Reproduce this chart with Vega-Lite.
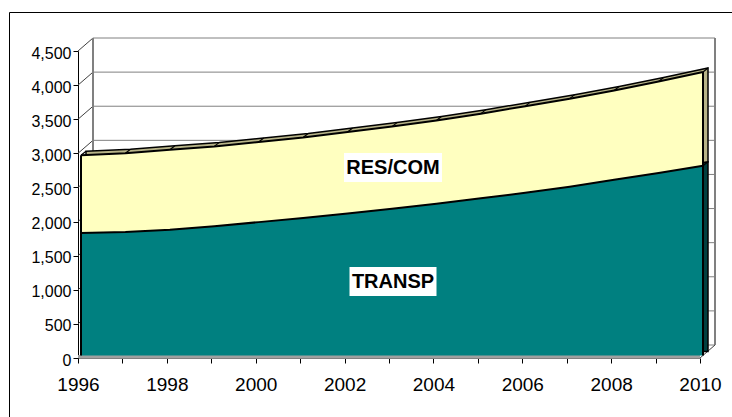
{
  "$schema": "https://vega.github.io/schema/vega-lite/v6.json",
  "width": 723,
  "height": 405,
  "autosize": {"type": "none"},
  "padding": {"left": 9, "top": 12, "right": 0, "bottom": 0},
  "background": "white",
  "config": {
    "view": {"stroke": null},
    "font": "Liberation Sans"
  },
  "datasets": {
    "energy": [
      {"year": 1996, "series": "TRANSP", "value": 1795},
      {"year": 1997, "series": "TRANSP", "value": 1810},
      {"year": 1998, "series": "TRANSP", "value": 1845},
      {"year": 1999, "series": "TRANSP", "value": 1895},
      {"year": 2000, "series": "TRANSP", "value": 1955},
      {"year": 2001, "series": "TRANSP", "value": 2015},
      {"year": 2002, "series": "TRANSP", "value": 2080},
      {"year": 2003, "series": "TRANSP", "value": 2150},
      {"year": 2004, "series": "TRANSP", "value": 2225},
      {"year": 2005, "series": "TRANSP", "value": 2305},
      {"year": 2006, "series": "TRANSP", "value": 2385},
      {"year": 2007, "series": "TRANSP", "value": 2475},
      {"year": 2008, "series": "TRANSP", "value": 2575},
      {"year": 2009, "series": "TRANSP", "value": 2675},
      {"year": 2010, "series": "TRANSP", "value": 2780},
      {"year": 1996, "series": "RES/COM", "value": 1140},
      {"year": 1997, "series": "RES/COM", "value": 1155},
      {"year": 1998, "series": "RES/COM", "value": 1170},
      {"year": 1999, "series": "RES/COM", "value": 1170},
      {"year": 2000, "series": "RES/COM", "value": 1175},
      {"year": 2001, "series": "RES/COM", "value": 1180},
      {"year": 2002, "series": "RES/COM", "value": 1195},
      {"year": 2003, "series": "RES/COM", "value": 1205},
      {"year": 2004, "series": "RES/COM", "value": 1220},
      {"year": 2005, "series": "RES/COM", "value": 1240},
      {"year": 2006, "series": "RES/COM", "value": 1270},
      {"year": 2007, "series": "RES/COM", "value": 1290},
      {"year": 2008, "series": "RES/COM", "value": 1310},
      {"year": 2009, "series": "RES/COM", "value": 1340},
      {"year": 2010, "series": "RES/COM", "value": 1375}
    ],
    "ticks": [
      {"v": 0}, {"v": 500}, {"v": 1000}, {"v": 1500}, {"v": 2000},
      {"v": 2500}, {"v": 3000}, {"v": 3500}, {"v": 4000}, {"v": 4500}
    ],
    "labels": [
      {"label": "RES/COM", "year": 2003.09, "value": 2792},
      {"label": "TRANSP", "year": 2003.09, "value": 1121}
    ]
  },
  "resolve": {"scale": {"x": "independent", "y": "independent"}},
  "layer": [
    {
      "layer": [
        {
          "data": {"name": "ticks"},
          "mark": {"type": "rule", "color": "#808080", "strokeWidth": 1, "xOffset": 15, "x2Offset": 15, "yOffset": -13, "y2Offset": -13},
          "encoding": {
            "x": {"datum": 1996, "type": "quantitative", "title": null,
              "scale": {"type": "linear", "domain": [1996, 2010], "range": [69, 691], "nice": false, "zero": false},
              "axis": {"values": [1996, 1997, 1998, 1999, 2000, 2001, 2002, 2003, 2004, 2005, 2006, 2007, 2008, 2009, 2010],
                "labelExpr": "datum.value % 2 === 0 ? datum.label : ''", "format": "d", "title": null, "grid": false,
                "orient": "bottom", "offset": -59, "tickSize": 5, "tickColor": "#000000", "domainColor": "#808080", "domainWidth": 1,
                "labelFontSize": 19, "labelFont": "Liberation Sans", "labelColor": "#000000", "labelPadding": 12,
                "labelFlush": false, "labelOverlap": false}},
            "x2": {"datum": 2010},
            "y": {"field": "v", "type": "quantitative", "title": null,
              "scale": {"type": "linear", "domain": [0, 4500], "range": [346, 39], "nice": false, "zero": false},
              "axis": {"values": [0, 500, 1000, 1500, 2000, 2500, 3000, 3500, 4000, 4500], "format": ",d", "title": null, "grid": false,
                "orient": "left", "offset": -69, "tickSize": 5, "tickColor": "#000000", "domainColor": "#000000", "domainWidth": 1,
                "labelFontSize": 16, "labelFont": "Liberation Sans", "labelColor": "#000000", "labelPadding": 2, "labelOffset": 2}},
            "y2": {"field": "v"}
          }
        },
        {
          "data": {"name": "ticks"},
          "mark": {"type": "rule", "color": "#404040", "strokeWidth": 1, "x2Offset": 15, "y2Offset": -13},
          "encoding": {
            "x": {"datum": 1996, "type": "quantitative", "title": null},
            "x2": {"datum": 1996},
            "y": {"field": "v", "type": "quantitative", "title": null},
            "y2": {"field": "v"}
          }
        },
        {
          "data": {"values": [{}]},
          "mark": {"type": "rule", "color": "#808080", "strokeWidth": 2, "xOffset": 15, "x2Offset": 15, "yOffset": -13, "y2Offset": -13},
          "encoding": {
            "x": {"datum": 1996, "type": "quantitative", "title": null},
            "x2": {"datum": 1996},
            "y": {"datum": 0, "type": "quantitative", "title": null},
            "y2": {"datum": 4500}
          }
        },
        {
          "data": {"values": [{}]},
          "mark": {"type": "rule", "color": "#808080", "strokeWidth": 2, "xOffset": 15, "x2Offset": 15, "yOffset": -13, "y2Offset": -13},
          "encoding": {
            "x": {"datum": 2010, "type": "quantitative", "title": null},
            "x2": {"datum": 2010},
            "y": {"datum": 0, "type": "quantitative", "title": null},
            "y2": {"datum": 4500}
          }
        },
        {
          "data": {"values": [{}]},
          "mark": {"type": "rule", "color": "#A0A0A0", "strokeWidth": 3, "yOffset": -1.5, "y2Offset": -1.5},
          "encoding": {
            "x": {"datum": 1996, "type": "quantitative", "title": null},
            "x2": {"datum": 2010},
            "y": {"datum": 0, "type": "quantitative", "title": null},
            "y2": {"datum": 0}
          }
        },
        {
          "data": {"values": [{}]},
          "mark": {"type": "rule", "color": "#404040", "strokeWidth": 1, "x2Offset": 15, "y2Offset": -13},
          "encoding": {
            "x": {"datum": 2010, "type": "quantitative", "title": null},
            "x2": {"datum": 2010},
            "y": {"datum": 0, "type": "quantitative", "title": null},
            "y2": {"datum": 0}
          }
        },
        {
          "data": {"name": "energy"},
          "mark": {"type": "area", "xOffset": 8, "yOffset": -6.5, "y2Offset": -6.5, "stroke": "#000000", "strokeWidth": 1.5},
          "encoding": {
            "x": {"field": "year", "type": "quantitative", "title": null},
            "y": {"field": "value", "type": "quantitative", "stack": "zero", "title": null},
            "order": {"field": "series", "sort": "descending"},
            "fill": {"field": "series", "type": "nominal", "legend": null,
              "scale": {"domain": ["TRANSP", "RES/COM"], "range": ["#004040", "#B8B488"]}}
          }
        },
        {
          "data": {"name": "energy"},
          "transform": [{"aggregate": [{"op": "sum", "field": "value", "as": "total"}], "groupby": ["year"]}],
          "mark": {"type": "rule", "color": "#000000", "strokeWidth": 1.2, "xOffset": 3, "yOffset": -2.5, "x2Offset": 8, "y2Offset": -6.5},
          "encoding": {
            "x": {"field": "year", "type": "quantitative", "title": null},
            "x2": {"field": "year"},
            "y": {"field": "total", "type": "quantitative", "title": null},
            "y2": {"field": "total"}
          }
        },
        {
          "data": {"name": "energy"},
          "transform": [{"filter": "datum.series === 'TRANSP' && datum.year === 2010"}],
          "mark": {"type": "rule", "color": "#000000", "strokeWidth": 1.2, "xOffset": 3, "yOffset": -2.5, "x2Offset": 8, "y2Offset": -6.5},
          "encoding": {
            "x": {"field": "year", "type": "quantitative", "title": null},
            "x2": {"field": "year"},
            "y": {"field": "value", "type": "quantitative", "title": null},
            "y2": {"field": "value"}
          }
        },
        {
          "data": {"name": "energy"},
          "mark": {"type": "area", "xOffset": 3, "yOffset": -2.5, "y2Offset": -2.5},
          "encoding": {
            "x": {"field": "year", "type": "quantitative", "title": null},
            "y": {"field": "value", "type": "quantitative", "stack": "zero", "title": null},
            "order": {"field": "series", "sort": "descending"},
            "color": {"field": "series", "type": "nominal", "legend": null,
              "scale": {"domain": ["TRANSP", "RES/COM"], "range": ["#008080", "#FFFFC0"]}}
          }
        },
        {
          "data": {"name": "energy"},
          "transform": [{"filter": "datum.series === 'TRANSP'"}],
          "mark": {"type": "line", "color": "#000000", "strokeWidth": 2, "xOffset": 3, "yOffset": -2.5},
          "encoding": {
            "x": {"field": "year", "type": "quantitative", "title": null},
            "y": {"field": "value", "type": "quantitative", "title": null}
          }
        },
        {
          "data": {"name": "energy"},
          "transform": [{"aggregate": [{"op": "sum", "field": "value", "as": "total"}], "groupby": ["year"]}],
          "mark": {"type": "line", "color": "#000000", "strokeWidth": 2, "xOffset": 3, "yOffset": -2.5},
          "encoding": {
            "x": {"field": "year", "type": "quantitative", "title": null},
            "y": {"field": "total", "type": "quantitative", "title": null}
          }
        },
        {
          "data": {"name": "energy"},
          "transform": [{"aggregate": [{"op": "sum", "field": "value", "as": "total"}], "groupby": ["year"]}, {"filter": "datum.year === 1996 || datum.year === 2010"}],
          "mark": {"type": "rule", "color": "#000000", "strokeWidth": 2, "xOffset": 3, "x2Offset": 3, "yOffset": -2.5, "y2Offset": -2.5},
          "encoding": {
            "x": {"field": "year", "type": "quantitative", "title": null},
            "x2": {"field": "year"},
            "y": {"field": "total", "type": "quantitative", "title": null},
            "y2": {"datum": 0}
          }
        },
        {
          "data": {"name": "labels"},
          "transform": [{"filter": "datum.label === 'RES/COM'"}],
          "mark": {"type": "point", "shape": "M-1,-0.296H1V0.296H-1Z", "size": 9604, "filled": true, "color": "#FFFFFF", "opacity": 1, "strokeWidth": 0},
          "encoding": {
            "x": {"field": "year", "type": "quantitative", "title": null},
            "y": {"field": "value", "type": "quantitative", "title": null}
          }
        },
        {
          "data": {"name": "labels"},
          "transform": [{"filter": "datum.label === 'TRANSP'"}],
          "mark": {"type": "point", "shape": "M-1,-0.333H1V0.333H-1Z", "size": 7569, "filled": true, "color": "#FFFFFF", "opacity": 1, "strokeWidth": 0},
          "encoding": {
            "x": {"field": "year", "type": "quantitative", "title": null},
            "y": {"field": "value", "type": "quantitative", "title": null}
          }
        },
        {
          "data": {"name": "labels"},
          "mark": {"type": "text", "font": "Liberation Sans", "fontSize": 20, "fontWeight": "bold", "color": "#000000", "align": "center", "baseline": "middle"},
          "encoding": {
            "x": {"field": "year", "type": "quantitative", "title": null},
            "y": {"field": "value", "type": "quantitative", "title": null},
            "text": {"field": "label", "type": "nominal"}
          }
        }
      ]
    },
    {
      "data": {"values": [{}]},
      "layer": [
        {
          "mark": {"type": "rule", "color": "#000000", "strokeWidth": 1},
          "encoding": {
            "x": {"datum": 0, "type": "quantitative", "axis": null, "scale": {"domain": [0, 1], "range": [0.5, 723], "nice": false, "zero": false}},
            "x2": {"datum": 0},
            "y": {"datum": 0, "type": "quantitative", "axis": null, "scale": {"domain": [0, 1], "range": [0.5, 405], "nice": false, "zero": false}},
            "y2": {"datum": 1}
          }
        },
        {
          "mark": {"type": "rule", "color": "#000000", "strokeWidth": 1},
          "encoding": {
            "x": {"datum": 0, "type": "quantitative", "axis": null},
            "x2": {"datum": 1},
            "y": {"datum": 0, "type": "quantitative", "axis": null},
            "y2": {"datum": 0}
          }
        }
      ]
    }
  ]
}
